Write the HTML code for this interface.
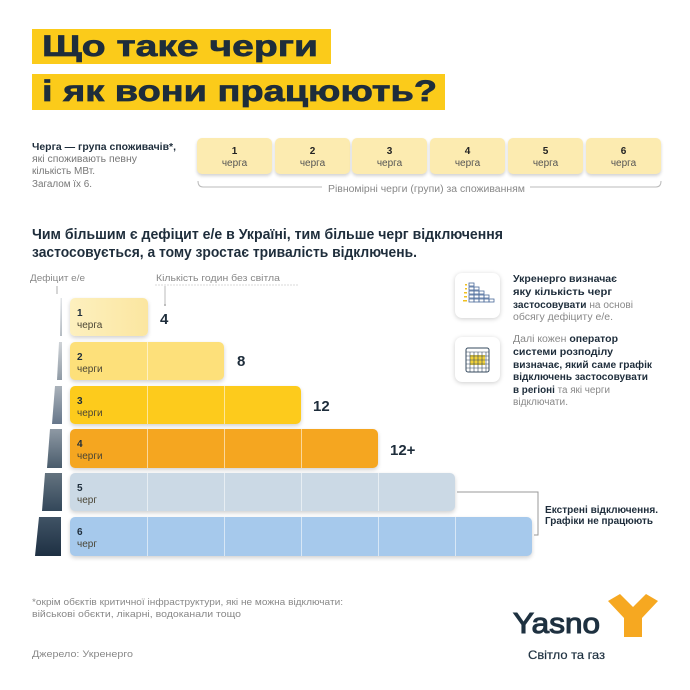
<!DOCTYPE html>
<html><head><meta charset="utf-8">
<style>
*{margin:0;padding:0;box-sizing:border-box}
body{width:690px;height:690px;background:#fff;position:relative;overflow:hidden;font-family:"Liberation Sans","DejaVu Sans",sans-serif;color:#1e2d3b}
.a{position:absolute;white-space:nowrap}
.fit{display:inline-block;white-space:nowrap;transform-origin:0 50%}
.hl{position:absolute;background:#fbcb1a}
.cell{position:absolute;top:138px;height:36px;width:75px;background:#fcebb0;border-radius:5px;box-shadow:0 2px 3px rgba(0,0,0,0.18);text-align:center;font-size:10px;line-height:11.5px;padding-top:8px}
.cell b{display:block;color:#222}
.cell span{color:#555}
.bar{position:absolute;left:70px;height:38px;border-radius:5px;box-shadow:0 2px 4px rgba(0,0,0,0.18);overflow:hidden}
.bar .dv{position:absolute;top:0;bottom:0;width:1px;background:rgba(255,255,255,0.55)}
.bl{position:absolute;left:7px;top:10px;font-size:10px;line-height:12px;color:#4a4535}
.bl b{display:block;color:#1e2d3b}
.val{position:absolute;font-size:15px;font-weight:bold;color:#1e2d3b}
.ibox{position:absolute;left:455px;width:45px;height:45px;background:#fff;border-radius:7px;box-shadow:0 1px 5px rgba(0,0,0,0.2)}
.rt{font-size:10px;color:#888}
.rt b{color:#1e2d3b}
</style></head><body>

<div class="hl" style="left:32px;top:29px;width:299px;height:35px"></div>
<div class="hl" style="left:32px;top:74px;width:413px;height:36px"></div>
<div class="a" style="left:42px;top:29px;height:35px;line-height:35px;font-size:30px;font-weight:bold;-webkit-text-stroke:0.7px #1e2d3b"><span class="fit" style="--w:276">Що таке черги</span></div>
<div class="a" style="left:42px;top:74px;height:36px;line-height:36px;font-size:30px;font-weight:bold;-webkit-text-stroke:0.7px #1e2d3b"><span class="fit" style="--w:395">і як вони працюють?</span></div>

<div class="a" style="left:32px;top:142px;font-size:10px;line-height:12.5px;color:#1e2d3b;font-weight:bold"><span class="fit" style="--w:144">Черга — група споживачів*,</span></div>
<div class="a" style="left:32px;top:154px;font-size:10px;line-height:12.5px;color:#777"><span class="fit" style="--w:105">які споживають певну</span></div>
<div class="a" style="left:32px;top:166px;font-size:10px;line-height:12.5px;color:#777"><span class="fit" style="--w:63">кількість МВт.</span></div>
<div class="a" style="left:32px;top:179px;font-size:10px;line-height:12.5px;color:#777"><span class="fit" style="--w:60">Загалом їх 6.</span></div>

<div class="cell" style="left:197px"><b>1</b><span>черга</span></div>
<div class="cell" style="left:275px"><b>2</b><span>черга</span></div>
<div class="cell" style="left:352px"><b>3</b><span>черга</span></div>
<div class="cell" style="left:430px"><b>4</b><span>черга</span></div>
<div class="cell" style="left:508px"><b>5</b><span>черга</span></div>
<div class="cell" style="left:586px"><b>6</b><span>черга</span></div>

<svg class="a" style="left:0;top:0" width="690" height="690">
<path d="M198 181 Q198 187 203 187 L322 187" stroke="#bbb" stroke-width="1" fill="none"/>
<path d="M530 187 L656 187 Q661 187 661 181" stroke="#bbb" stroke-width="1" fill="none"/>
<line x1="155" y1="285" x2="298" y2="285" stroke="#ccc" stroke-width="0.8" stroke-dasharray="2,1"/>
<line x1="165" y1="286" x2="165" y2="305" stroke="#aaa" stroke-width="0.8"/>
<circle cx="165" cy="305" r="1" fill="#aaa"/>
<line x1="57" y1="286" x2="57" y2="294" stroke="#999" stroke-width="0.8"/>
<defs>
<linearGradient id="g1" x1="0" y1="0" x2="0" y2="1"><stop offset="0" stop-color="#e2e5e8"/><stop offset="1" stop-color="#b5bcc3"/></linearGradient>
<linearGradient id="g2" x1="0" y1="0" x2="0" y2="1"><stop offset="0" stop-color="#d0d4d8"/><stop offset="1" stop-color="#8f9aa5"/></linearGradient>
<linearGradient id="g3" x1="0" y1="0" x2="0" y2="1"><stop offset="0" stop-color="#aab2ba"/><stop offset="1" stop-color="#66768a"/></linearGradient>
<linearGradient id="g4" x1="0" y1="0" x2="0" y2="1"><stop offset="0" stop-color="#8e99a4"/><stop offset="1" stop-color="#4a5c6c"/></linearGradient>
<linearGradient id="g5" x1="0" y1="0" x2="0" y2="1"><stop offset="0" stop-color="#64737f"/><stop offset="1" stop-color="#33475a"/></linearGradient>
<linearGradient id="g6" x1="0" y1="0" x2="0" y2="1"><stop offset="0" stop-color="#405365"/><stop offset="1" stop-color="#1e3043"/></linearGradient>
</defs>
<polygon points="60.5,298 62,298 62,336 60,336" fill="url(#g1)"/>
<polygon points="59,342 62,342 62,380 57,380" fill="url(#g2)"/>
<polygon points="55,386 62,386 62,424 52,424" fill="url(#g3)"/>
<polygon points="50,429 62,429 62,468 47,468" fill="url(#g4)"/>
<polygon points="45,473 62,473 62,511 42,511" fill="url(#g5)"/>
<polygon points="39,517 61,517 61,556 35,556" fill="url(#g6)"/>
<polyline points="457,492 538,492 538,535 534,535" stroke="#999" stroke-width="1" fill="none"/>
<polygon points="608,601 620,594 633,607 646,594 658,601 642,618 642,637 624,637 624,618" fill="#f6a821"/>
</svg>

<div class="a" style="left:328px;top:184px;font-size:10px;line-height:12px;color:#888"><span class="fit" style="--w:197">Рівномірні черги (групи) за споживанням</span></div>

<div class="a" style="left:32px;top:226px;font-size:15px;line-height:18px;font-weight:bold"><span class="fit" style="--w:471">Чим більшим є дефіцит е/е в Україні, тим більше черг відключення</span></div>
<div class="a" style="left:32px;top:244px;font-size:15px;line-height:18px;font-weight:bold"><span class="fit" style="--w:385">застосовується, а тому зростає тривалість відключень.</span></div>

<div class="a" style="left:30px;top:273px;font-size:9.5px;line-height:12px;color:#888"><span class="fit" style="--w:55">Дефіцит е/е</span></div>
<div class="a" style="left:156px;top:273px;font-size:9.5px;line-height:12px;color:#888"><span class="fit" style="--w:124">Кількість годин без світла</span></div>

<div class="bar" style="top:298px;width:78px;background:linear-gradient(90deg,#fdf0bf,#fbe6a0)">
 <div class="bl"><b>1</b>черга</div></div>
<div class="bar" style="top:342px;width:154px;background:#fde07a">
 <div class="dv" style="left:77px"></div><div class="bl"><b>2</b>черги</div></div>
<div class="bar" style="top:386px;width:231px;background:#fdcb1c">
 <div class="dv" style="left:77px"></div><div class="dv" style="left:154px"></div><div class="bl"><b>3</b>черги</div></div>
<div class="bar" style="top:429px;width:308px;height:39px;background:#f5a620">
 <div class="dv" style="left:77px"></div><div class="dv" style="left:154px"></div><div class="dv" style="left:231px"></div><div class="bl"><b>4</b>черги</div></div>
<div class="bar" style="top:473px;width:385px;background:#cbd9e5">
 <div class="dv" style="left:77px"></div><div class="dv" style="left:154px"></div><div class="dv" style="left:231px"></div><div class="dv" style="left:308px"></div><div class="bl"><b>5</b>черг</div></div>
<div class="bar" style="top:517px;width:462px;height:39px;background:#a6c9ec">
 <div class="dv" style="left:77px"></div><div class="dv" style="left:154px"></div><div class="dv" style="left:231px"></div><div class="dv" style="left:308px"></div><div class="dv" style="left:385px"></div><div class="bl"><b>6</b>черг</div></div>

<div class="val" style="left:160px;top:311px">4</div>
<div class="val" style="left:237px;top:353px">8</div>
<div class="val" style="left:313px;top:398px">12</div>
<div class="val" style="left:390px;top:442px">12+</div>

<div class="ibox" style="top:273px">
<svg width="45" height="45">
 <g fill="none" stroke="#4a6a9a" stroke-width="0.8">
 <rect x="14" y="10" width="5" height="3"/>
 <rect x="14" y="14" width="5" height="3"/><rect x="19" y="14" width="5" height="3"/>
 <rect x="14" y="18" width="5" height="3"/><rect x="19" y="18" width="5" height="3"/><rect x="24" y="18" width="5" height="3"/>
 <rect x="14" y="22" width="5" height="3"/><rect x="19" y="22" width="5" height="3"/><rect x="24" y="22" width="5" height="3"/><rect x="29" y="22" width="5" height="3"/>
 <rect x="14" y="26" width="5" height="3"/><rect x="19" y="26" width="5" height="3"/><rect x="24" y="26" width="5" height="3"/><rect x="29" y="26" width="5" height="3"/><rect x="34" y="26" width="5" height="3"/>
 </g>
 <g fill="#f0c020"><rect x="10" y="11" width="2" height="1.5"/><rect x="10" y="15" width="2" height="1.5"/><rect x="9" y="19" width="3" height="1.5"/><rect x="9" y="23" width="3" height="1.5"/><rect x="8" y="27" width="4" height="1.5"/></g>
</svg></div>
<div class="ibox" style="top:337px">
<svg width="45" height="45">
 <rect x="11" y="11" width="23" height="24" rx="2" fill="none" stroke="#34495e" stroke-width="1"/>
 <rect x="15" y="18" width="15" height="10" fill="#f2d23a"/>
 <g stroke="#34495e" stroke-width="0.6">
 <line x1="11" y1="15" x2="34" y2="15"/><line x1="11" y1="19" x2="34" y2="19"/><line x1="11" y1="23" x2="34" y2="23"/><line x1="11" y1="27" x2="34" y2="27"/><line x1="11" y1="31" x2="34" y2="31"/>
 <line x1="15" y1="15" x2="15" y2="35"/><line x1="19" y1="15" x2="19" y2="35"/><line x1="23" y1="15" x2="23" y2="35"/><line x1="27" y1="15" x2="27" y2="35"/><line x1="31" y1="15" x2="31" y2="35"/>
 </g>
</svg></div>

<div class="a rt" style="left:513px;top:274px;line-height:12.8px"><span class="fit" style="--w:104"><b>Укренерго визначає</b></span></div>
<div class="a rt" style="left:513px;top:287px;line-height:12.8px"><span class="fit" style="--w:99"><b>яку кількість черг</b></span></div>
<div class="a rt" style="left:513px;top:300px;line-height:12.8px"><span class="fit" style="--w:120"><b>застосовувати</b> на основі</span></div>
<div class="a rt" style="left:513px;top:312px;line-height:12.8px"><span class="fit" style="--w:100">обсягу дефіциту е/е.</span></div>

<div class="a rt" style="left:513px;top:334px;line-height:12.8px"><span class="fit" style="--w:105">Далі кожен <b>оператор</b></span></div>
<div class="a rt" style="left:513px;top:347px;line-height:12.8px"><span class="fit" style="--w:100"><b>системи розподілу</b></span></div>
<div class="a rt" style="left:513px;top:360px;line-height:12.8px"><span class="fit" style="--w:139"><b>визначає, який саме графік</b></span></div>
<div class="a rt" style="left:513px;top:372px;line-height:12.8px"><span class="fit" style="--w:135"><b>відключень застосовувати</b></span></div>
<div class="a rt" style="left:513px;top:385px;line-height:12.8px"><span class="fit" style="--w:97"><b>в регіоні</b> та які черги</span></div>
<div class="a rt" style="left:513px;top:397px;line-height:12.8px"><span class="fit" style="--w:55">відключати.</span></div>

<div class="a" style="left:545px;top:505px;font-size:10px;line-height:11px;font-weight:bold"><span class="fit" style="--w:113">Екстрені відключення.</span></div>
<div class="a" style="left:545px;top:516px;font-size:10px;line-height:11px;font-weight:bold"><span class="fit" style="--w:108">Графіки не працюють</span></div>

<div class="a" style="left:32px;top:597px;font-size:9.5px;line-height:12px;color:#888"><span class="fit" style="--w:311">*окрім обєктів критичної інфраструктури, які не можна відключати:</span></div>
<div class="a" style="left:32px;top:609px;font-size:9.5px;line-height:12px;color:#888"><span class="fit" style="--w:209">військові обєкти, лікарні, водоканали тощо</span></div>
<div class="a" style="left:32px;top:649px;font-size:9.5px;line-height:12px;color:#888"><span class="fit" style="--w:101">Джерело: Укренерго</span></div>

<div class="a" style="left:513px;top:607px;font-size:29px;line-height:34px;color:#1e3140;-webkit-text-stroke:1.1px #1e3140"><span class="fit" style="--w:87">Yasno</span></div>
<div class="a" style="left:528px;top:648px;font-size:12px;line-height:14px;color:#1e3140;-webkit-text-stroke:0.2px #1e3140"><span class="fit" style="--w:77">Світло та газ</span></div>

<script>
document.querySelectorAll('.fit').forEach(function(el){
 var w=parseFloat(el.style.getPropertyValue('--w'));
 var cw=el.getBoundingClientRect().width;
 if(w&&cw>0){el.style.transform='scaleX('+(w/cw)+')';}
});
</script>
</body></html>
